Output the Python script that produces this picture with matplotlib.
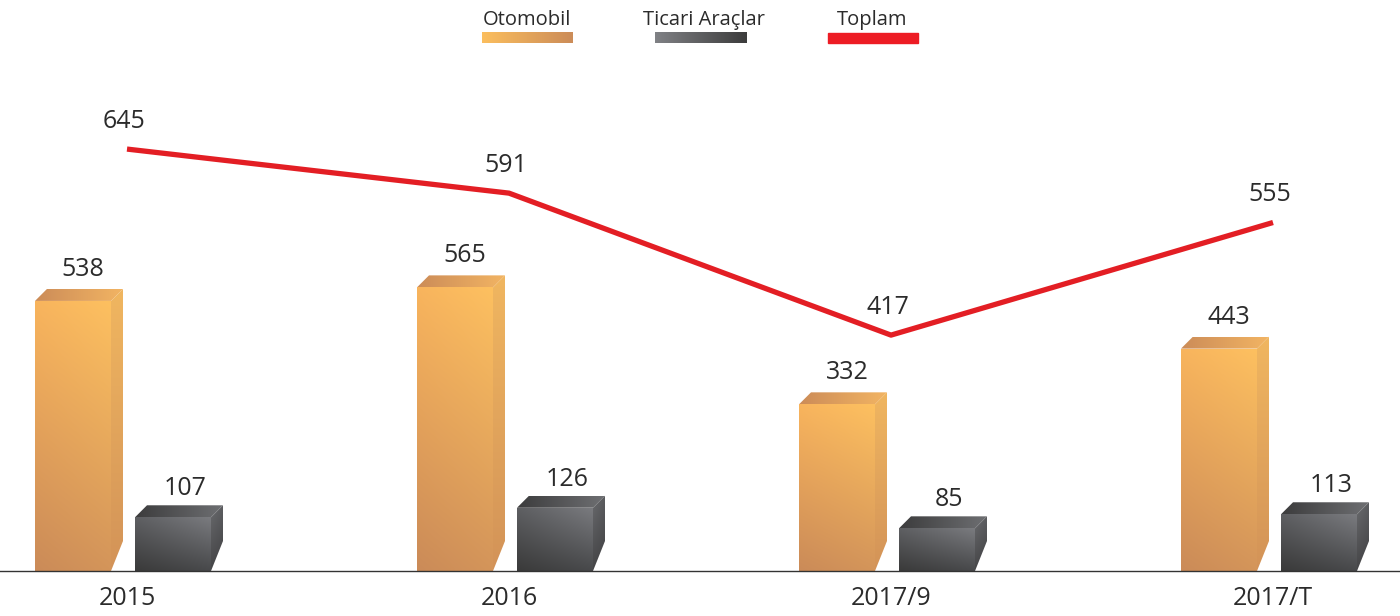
import matplotlib.pyplot as plt
import numpy as np
from matplotlib.patches import Polygon, Rectangle

# Data
years = ["2015", "2016", "2017/9", "2017/T"]
otomobil = [538, 565, 332, 443]
ticari = [107, 126, 85, 113]
toplam = [645, 591, 417, 555]

plt.rcParams["font.family"] = ["Open Sans", "DejaVu Sans"]
TXT = "#2b2b2b"

W, H = 1400, 616
fig = plt.figure(figsize=(W / 100, H / 100), dpi=100)
base_px = 571
ax = fig.add_axes([0, (H - base_px) / H, 1, base_px / H])
ax2 = ax.twinx()

step = 382.0
xlim = (-127 / step, (W - 127) / step)
ylim = (0, base_px / 0.502)
ax.set_xlim(*xlim)
ax.set_ylim(*ylim)
ax2.set_ylim(127.9, 827.7)

# pixel -> data helpers
px_x = (xlim[1] - xlim[0]) / W
px_y = (ylim[1] - ylim[0]) / base_px


def corner_grad(tl, tr, bl, br, n=64):
    c = [np.array(plt.matplotlib.colors.to_rgb(k)) for k in (tl, tr, bl, br)]
    t = np.linspace(0, 1, n)[:, None, None]
    s = np.linspace(0, 1, n)[None, :, None]
    top = c[0] * (1 - s) + c[1] * s
    bot = c[2] * (1 - s) + c[3] * s
    return top * (1 - t) + bot * t


def grad_poly(axis, pts, cols):
    pts = np.array(pts)
    poly = Polygon(pts, closed=True, facecolor="none", edgecolor="none",
                   transform=axis.transData)
    axis.add_patch(poly)
    img = corner_grad(*cols)
    im = axis.imshow(img, extent=(pts[:, 0].min(), pts[:, 0].max(),
                                  pts[:, 1].min(), pts[:, 1].max()),
                     origin="upper", aspect="auto", interpolation="bilinear",
                     zorder=2)
    im.set_clip_path(poly)


def bar3d(x0, width_px, h, front, side, top):
    x1 = x0 + width_px * px_x
    dx, dy = 12 * px_x, 12 * px_y
    grad_poly(ax, [(x0, 0), (x1, 0), (x1, h), (x0, h)], front)
    grad_poly(ax, [(x1, 0), (x1 + dx, dy * 2.5), (x1 + dx, h + dy), (x1, h)], side)
    grad_poly(ax, [(x0, h), (x1, h), (x1 + dx, h + dy), (x0 + dx, h + dy)], top)


ORANGE = dict(front=("#F8B45D", "#FDC060", "#CB8B58", "#D4955A"),
              side=("#F0B660", "#F0B660", "#D39358", "#D39358"),
              top=("#CC8C58", "#F2B463", "#CC8C58", "#F2B463"))
DARK = dict(front=("#5E5F62", "#7A7B7F", "#3A3A3A", "#48494B"),
            side=("#6A6B6E", "#5A5B5E", "#454547", "#404042"),
            top=("#3C3C3D", "#6E6F72", "#3C3C3D", "#6E6F72"))

for i in range(len(years)):
    ox = i - 92 * px_x
    bar3d(ox, 76, otomobil[i], **ORANGE)
    ax.annotate(str(otomobil[i]), (ox + 48 * px_x, otomobil[i] + 12 * px_y),
                xytext=(0, 5), textcoords="offset points", ha="center",
                va="bottom", fontsize=18, color=TXT)
    tx = i + 8 * px_x
    bar3d(tx, 76, ticari[i], **DARK)
    ax.annotate(str(ticari[i]), (tx + 50 * px_x, ticari[i] + 12 * px_y),
                xytext=(0, 3), textcoords="offset points", ha="center",
                va="bottom", fontsize=18, color=TXT)

# Toplam line
xs = np.arange(len(years))
ax2.plot(xs, toplam, color="#E31E24", lw=3.8, solid_capstyle="butt", zorder=5)
for x, v in zip(xs, toplam):
    ax2.annotate(str(v), (x, v), xytext=(-2, 11), textcoords="offset points",
                 ha="center", va="bottom", fontsize=18, color=TXT)

# Axes styling
ax.set_xlim(*xlim)
ax.set_ylim(*ylim)
ax.set_xticks(xs)
ax.set_xticklabels(years, fontsize=18, color=TXT)
ax.tick_params(axis="x", length=0, pad=11)
ax.set_yticks([])
ax2.set_yticks([])
for a in (ax, ax2):
    for side in ("top", "left", "right"):
        a.spines[side].set_visible(False)
    a.patch.set_visible(False)
ax2.spines["bottom"].set_visible(False)
ax.spines["bottom"].set_color("#333333")
ax.spines["bottom"].set_linewidth(1.0)

# Legend
def legend_swatch(x0, x1, cols):
    la = fig.add_axes([x0 / W, 1 - 43 / H, (x1 - x0) / W, 11 / H])
    la.imshow(corner_grad(*cols), aspect="auto", interpolation="bilinear")
    la.axis("off")


legend_swatch(482, 573, ("#FBBE5E", "#CC8C58", "#FBBE5E", "#CC8C58"))
legend_swatch(655, 746, ("#808185", "#3C3C3C", "#808185", "#3C3C3C"))
fig.patches.append(Rectangle((828 / W, 1 - 43 / H), 90 / W, 10 / H,
                             transform=fig.transFigure, color="#ED1C24"))
for label, cx in [("Otomobil", 527), ("Ticari Araçlar", 704), ("Toplam", 872)]:
    fig.text(cx / W, 1 - 25 / H, label, ha="center", va="baseline",
             fontsize=14.5, color=TXT)

fig.savefig("out.png", dpi=100, facecolor="white")
